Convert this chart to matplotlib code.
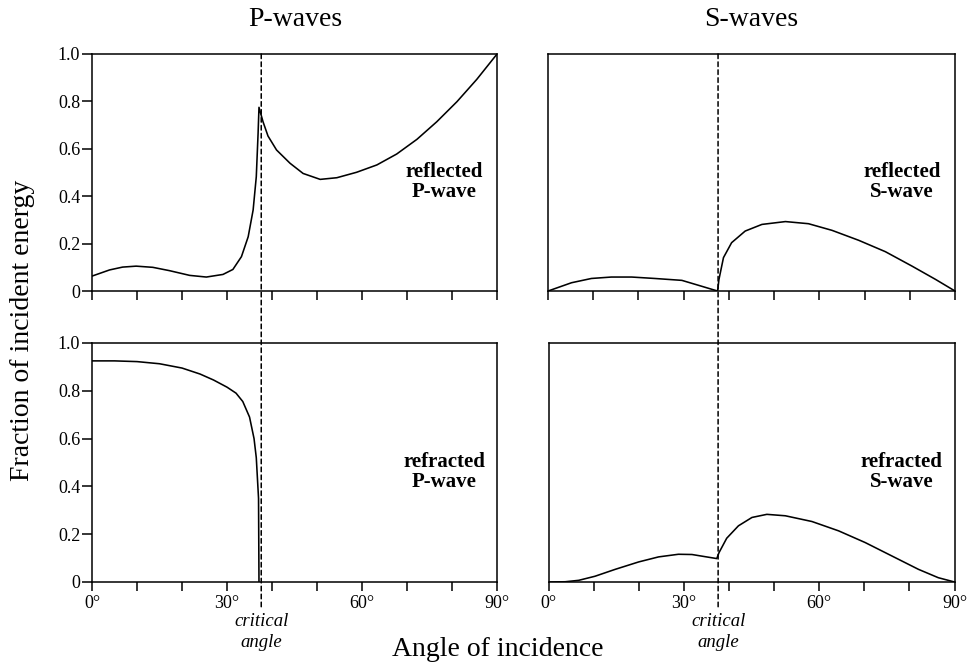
import matplotlib
matplotlib.use('Agg')
from matplotlib import pyplot as plt
from matplotlib.patches import ConnectionPatch

plt.rcParams['font.family'] = ['Liberation Serif', 'DejaVu Serif']

# angle of incidence (degrees) and fraction of incident energy
refl_p_x = [0, 3.9, 6.8, 9.8, 13.5, 17.2, 21.7, 25.4, 29.1, 31.3, 33.2, 34.7,
            35.8, 36.5, 36.9, 37.1, 38.0, 39.1, 41.0, 44.0, 46.9, 50.7, 54.4,
            58.8, 63.3, 67.7, 72.2, 76.6, 81.1, 85.5, 90]
refl_p_y = [0.063, 0.089, 0.101, 0.105, 0.100, 0.086, 0.066, 0.059, 0.070,
            0.091, 0.145, 0.229, 0.342, 0.482, 0.665, 0.775, 0.714, 0.654,
            0.595, 0.539, 0.496, 0.471, 0.478, 0.501, 0.532, 0.578, 0.640,
            0.714, 0.799, 0.893, 1.0]

refr_p_x = [0, 5, 10, 15, 20, 24, 27, 30, 32, 33.5, 35, 36, 36.5, 37, 37.1]
refr_p_y = [0.925, 0.925, 0.922, 0.913, 0.895, 0.87, 0.845, 0.815, 0.79,
            0.755, 0.69, 0.60, 0.52, 0.35, 0.0]

refl_s_x = [0, 5.2, 9.6, 14.0, 18.5, 23.6, 29.6, 33.3, 37.5, 37.8, 38.8, 40.6,
            43.6, 47.3, 52.5, 57.6, 62.8, 68.7, 74.6, 80.5, 85.7, 90]
refl_s_y = [0.0, 0.035, 0.053, 0.059, 0.059, 0.053, 0.045, 0.024, 0.0, 0.049,
            0.141, 0.204, 0.253, 0.281, 0.293, 0.284, 0.256, 0.214, 0.166,
            0.105, 0.049, 0.0]

refr_s_x = [0, 3.7, 6.7, 10.3, 14.8, 20.0, 24.4, 28.8, 31.8, 34.7, 37.3, 37.8,
            39.5, 42.1, 45.1, 48.4, 52.5, 58.4, 64.3, 70.2, 76.1, 82.0, 86.4, 90]
refr_s_y = [0.0, 0.001, 0.007, 0.024, 0.053, 0.084, 0.105, 0.116, 0.115,
            0.106, 0.098, 0.123, 0.183, 0.235, 0.270, 0.283, 0.277, 0.253,
            0.214, 0.165, 0.109, 0.053, 0.018, 0.0]

critical_angle = 37.6

x_ticks = [0, 10, 20, 30, 40, 50, 60, 70, 80, 90]
x_tick_labels = ['0°', '', '', '30°', '', '', '60°', '', '', '90°']
y_ticks = [0, 0.2, 0.4, 0.6, 0.8, 1.0]
y_tick_labels = ['0', '0.2', '0.4', '0.6', '0.8', '1.0']

col_titles = ['P-waves', 'S-waves']
panel_labels = [['reflected\nP-wave', 'reflected\nS-wave'],
                ['refracted\nP-wave', 'refracted\nS-wave']]

fig = plt.figure(figsize=(9.8, 6.64), dpi=100)

# axes positions in figure fractions
ax_tl = fig.add_axes([0.0939, 0.5617, 0.4133, 0.357])
ax_tr = fig.add_axes([0.5592, 0.5617, 0.4153, 0.357])
ax_bl = fig.add_axes([0.0939, 0.1235, 0.4133, 0.360])
ax_br = fig.add_axes([0.5597, 0.1235, 0.4143, 0.360])
axes = [[ax_tl, ax_tr], [ax_bl, ax_br]]

series = [[(refl_p_x, refl_p_y), (refl_s_x, refl_s_y)],
          [(refr_p_x, refr_p_y), (refr_s_x, refr_s_y)]]

for r in range(2):
    for c in range(2):
        ax = axes[r][c]
        xs, ys = series[r][c]
        ax.plot(xs, ys, color='black', lw=1.15)
        ax.set_xlim(0, 90)
        ax.set_ylim(0, 1.0)
        for sp in ax.spines.values():
            sp.set_linewidth(1.1)
        ax.set_xticks(x_ticks)
        if r == 1:
            ax.set_xticklabels(x_tick_labels)
        else:
            ax.set_xticklabels([])
        ax.tick_params(axis='x', direction='out', length=6.5, width=1.1,
                       pad=3, labelsize=13)
        if c == 0:
            ax.set_yticks(y_ticks)
            ax.set_yticklabels(y_tick_labels)
            ax.tick_params(axis='y', direction='out', length=7, width=1.1,
                           pad=1.5, labelsize=13)
        else:
            ax.set_yticks([])
        ax.text(0.87, 0.46, panel_labels[r][c], transform=ax.transAxes,
                ha='center', va='center', fontsize=15, fontweight='bold',
                linespacing=0.95)

# dashed critical-angle line running through both rows
for c in range(2):
    line = ConnectionPatch(xyA=(critical_angle, 1.0),
                           coordsA=axes[0][c].get_xaxis_transform(),
                           xyB=(critical_angle, -0.105),
                           coordsB=axes[1][c].get_xaxis_transform(),
                           color='black', lw=1.1, linestyle=(0, (3, 2.2)))
    fig.add_artist(line)
    axes[1][c].text(critical_angle, -0.13, 'critical\nangle',
                    transform=axes[1][c].get_xaxis_transform(),
                    ha='center', va='top', fontsize=13.5, style='italic',
                    linespacing=1.3)

fig.text(0.301, 0.9608, col_titles[0], ha='center', va='baseline', fontsize=20)
fig.text(0.767, 0.9608, col_titles[1], ha='center', va='baseline', fontsize=20)
fig.text(0.023, 0.503, 'Fraction of incident energy', rotation=90,
         ha='center', va='center', fontsize=20)
fig.text(0.508, 0.012, 'Angle of incidence', ha='center', va='baseline',
         fontsize=20)

fig.savefig('out.png', dpi=100)
